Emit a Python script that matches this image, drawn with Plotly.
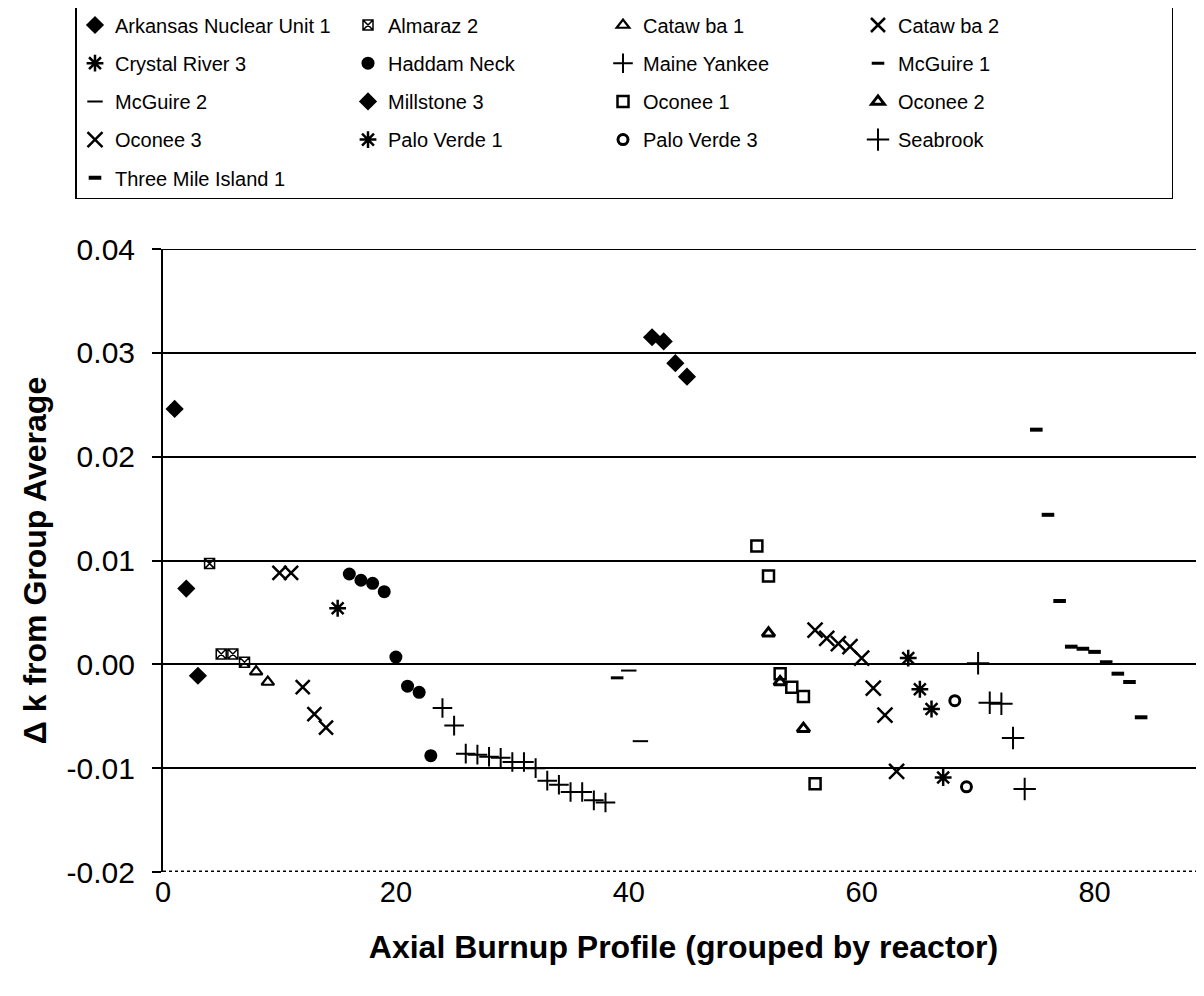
import plotly.graph_objects as go

# ---------------- data ----------------
series_names = [
    "Arkansas Nuclear Unit 1", "Almaraz 2", "Cataw ba 1", "Cataw ba 2",
    "Crystal River 3", "Haddam Neck", "Maine Yankee", "McGuire 1",
    "McGuire 2", "Millstone 3", "Oconee 1", "Oconee 2",
    "Oconee 3", "Palo Verde 1", "Palo Verde 3", "Seabrook",
    "Three Mile Island 1",
]

arkansas_x = [1, 2, 3]
arkansas_y = [0.0246, 0.0073, -0.0011]

almaraz_x = [4, 5, 6, 7]
almaraz_y = [0.0097, 0.0010, 0.0010, 0.0002]

catawba1_x = [8, 9]
catawba1_y = [-0.0007, -0.0017]

catawba2_x = [10, 11, 12, 13, 14]
catawba2_y = [0.0088, 0.0088, -0.0022, -0.0048, -0.0061]

crystal_x = [15]
crystal_y = [0.0054]

haddam_x = [16, 17, 18, 19, 20, 21, 22, 23]
haddam_y = [0.0087, 0.0081, 0.0078, 0.0070, 0.0007, -0.0021, -0.0027, -0.0088]

maine_x = [24, 25, 26, 27, 28, 29, 30, 31, 32, 33, 34, 35, 36, 37, 38]
maine_y = [-0.0042, -0.0059, -0.0086, -0.0087, -0.0089, -0.0090, -0.0094,
           -0.0094, -0.0100, -0.0112, -0.0116, -0.0123, -0.0123, -0.0131, -0.0133]

mcguire1_x = [39]
mcguire1_y = [-0.0013]

mcguire2_x = [40, 41]
mcguire2_y = [-0.0006, -0.0074]

millstone_x = [42, 43, 44, 45]
millstone_y = [0.0315, 0.0311, 0.0290, 0.0277]

oconee1_x = [51, 52, 53, 54, 55, 56]
oconee1_y = [0.0114, 0.0085, -0.0009, -0.0022, -0.0031, -0.0115]

oconee2_x = [52, 53, 55]
oconee2_y = [0.0030, -0.0017, -0.0062]

oconee3_x = [56, 57, 58, 59, 60, 61, 62, 63]
oconee3_y = [0.0033, 0.0025, 0.0020, 0.0017, 0.0006, -0.0023, -0.0049, -0.0103]

paloverde1_x = [64, 65, 66, 67]
paloverde1_y = [0.0006, -0.0024, -0.0043, -0.0109]

paloverde3_x = [68, 69]
paloverde3_y = [-0.0035, -0.0118]

seabrook_x = [70, 71, 72, 73, 74]
seabrook_y = [0.0001, -0.0037, -0.0038, -0.0071, -0.0120]

tmi_x = [75, 76, 77, 78, 79, 80, 81, 82, 83, 84]
tmi_y = [0.0226, 0.0144, 0.0061, 0.0017, 0.0015, 0.0012, 0.0002, -0.0009, -0.0017, -0.0051]

y_tick_vals = [-0.02, -0.01, 0.00, 0.01, 0.02, 0.03, 0.04]
y_tick_text = ["-0.02", "-0.01", "0.00", "0.01", "0.02", "0.03", "0.04"]
x_tick_vals = [0, 20, 40, 60, 80]
x_tick_text = ["0", "20", "40", "60", "80"]

x_title = "Axial Burnup Profile (grouped by reactor)"
y_title = "\u0394 k from Group Average"

# ---------------- figure ----------------
FONT = "Liberation Sans, Arial, Helvetica, sans-serif"
NB = "\u00a0"

xs = [arkansas_x, almaraz_x, catawba1_x, catawba2_x, crystal_x, haddam_x, maine_x,
      mcguire1_x, mcguire2_x, millstone_x, oconee1_x, oconee2_x, oconee3_x,
      paloverde1_x, paloverde3_x, seabrook_x, tmi_x]
ys = [arkansas_y, almaraz_y, catawba1_y, catawba2_y, crystal_y, haddam_y, maine_y,
      mcguire1_y, mcguire2_y, millstone_y, oconee1_y, oconee2_y, oconee3_y,
      paloverde1_y, paloverde3_y, seabrook_y, tmi_y]

# (symbol, size, line width)
styles = [
    ("diamond", 14, 0),
    ("square-x-open", 10, 1.5),
    ("triangle-up-open", 11, 2.2),
    ("x-thin-open", 14, 2.5),
    ("asterisk-open", 14, 2.5),
    ("circle", 13, 0),
    ("cross-thin-open", 14, 2),
    ("line-ew-open", 9, 3),
    ("line-ew-open", 11, 2),
    ("diamond", 14, 0),
    ("square-open", 11, 2.5),
    ("triangle-up-open", 11, 3),
    ("x-thin-open", 15, 2.5),
    ("asterisk-open", 14, 2.5),
    ("circle-open", 10, 3),
    ("cross-thin-open", 16, 2),
    ("line-ew-open", 9, 4),
]

col_widths = [228, 210, 210, 268]

W, H = 1196, 988          # page body has an 8px margin inside the 1204x996 window
L, T, B = 155, 241, 124
PW, PH = W - L, H - T - B

fig = go.Figure()
for i, (name, x, y) in enumerate(zip(series_names, xs, ys)):
    sym, size, lw = styles[i]
    fig.add_trace(go.Scatter(
        x=x, y=y, mode="markers", name=name,
        legendgroup=name,
        legendwidth=col_widths[i % 4],
        marker=dict(symbol=sym, size=size, color="black",
                    line=dict(color="black", width=lw)),
    ))

# dotted bottom axis line (as in the scan) and the top gridline
fig.add_shape(type="line", xref="paper", yref="y", x0=0, x1=1, y0=-0.02, y1=-0.02,
              line=dict(color="black", width=3, dash="dot"), layer="below")
fig.add_shape(type="line", xref="paper", yref="y", x0=0, x1=1, y0=0.04, y1=0.04,
              line=dict(color="black", width=2), layer="below")

fig.update_layout(
    width=W, height=H,
    paper_bgcolor="white", plot_bgcolor="white",
    font=dict(family=FONT, color="black"),
    margin=dict(l=L, r=0, t=T, b=B, autoexpand=False),
    showlegend=True,
    legend=dict(
        orientation="h", xref="paper", yref="paper",
        x=(67 - L) / PW, y=1 + (T + 4) / PH, xanchor="left", yanchor="top",
        bordercolor="black", borderwidth=1.5, bgcolor="white",
        font=dict(family=FONT, size=20, color="black"),
        tracegroupgap=9.2, itemsizing="trace",
    ),
    xaxis=dict(
        range=[0, 89.4], showgrid=False, zeroline=False, showline=False,
        tickmode="array", tickvals=x_tick_vals, ticktext=x_tick_text,
        ticks="", tickfont=dict(size=29, family=FONT, color="black"),
        title=dict(text=NB * 2 + "<b>" + x_title + "</b>", standoff=28,
                   font=dict(size=32, family=FONT, color="black")),
        automargin=False,
    ),
    yaxis=dict(
        range=[-0.02, 0.04], showgrid=True, gridcolor="black", gridwidth=2,
        zeroline=True, zerolinecolor="black", zerolinewidth=2,
        showline=True, linecolor="black", linewidth=2,
        tickmode="array", tickvals=y_tick_vals, ticktext=y_tick_text,
        ticks="outside", ticklen=9, tickwidth=2, tickcolor="black",
        ticklabelstandoff=11,
        tickfont=dict(size=30, family=FONT, color="black"),
        title=dict(text="<b>" + y_title + "</b>" + NB * 3, standoff=10,
                   font=dict(size=32, family=FONT, color="black")),
        automargin=False,
    ),
)

fig.write_html("out.html")
